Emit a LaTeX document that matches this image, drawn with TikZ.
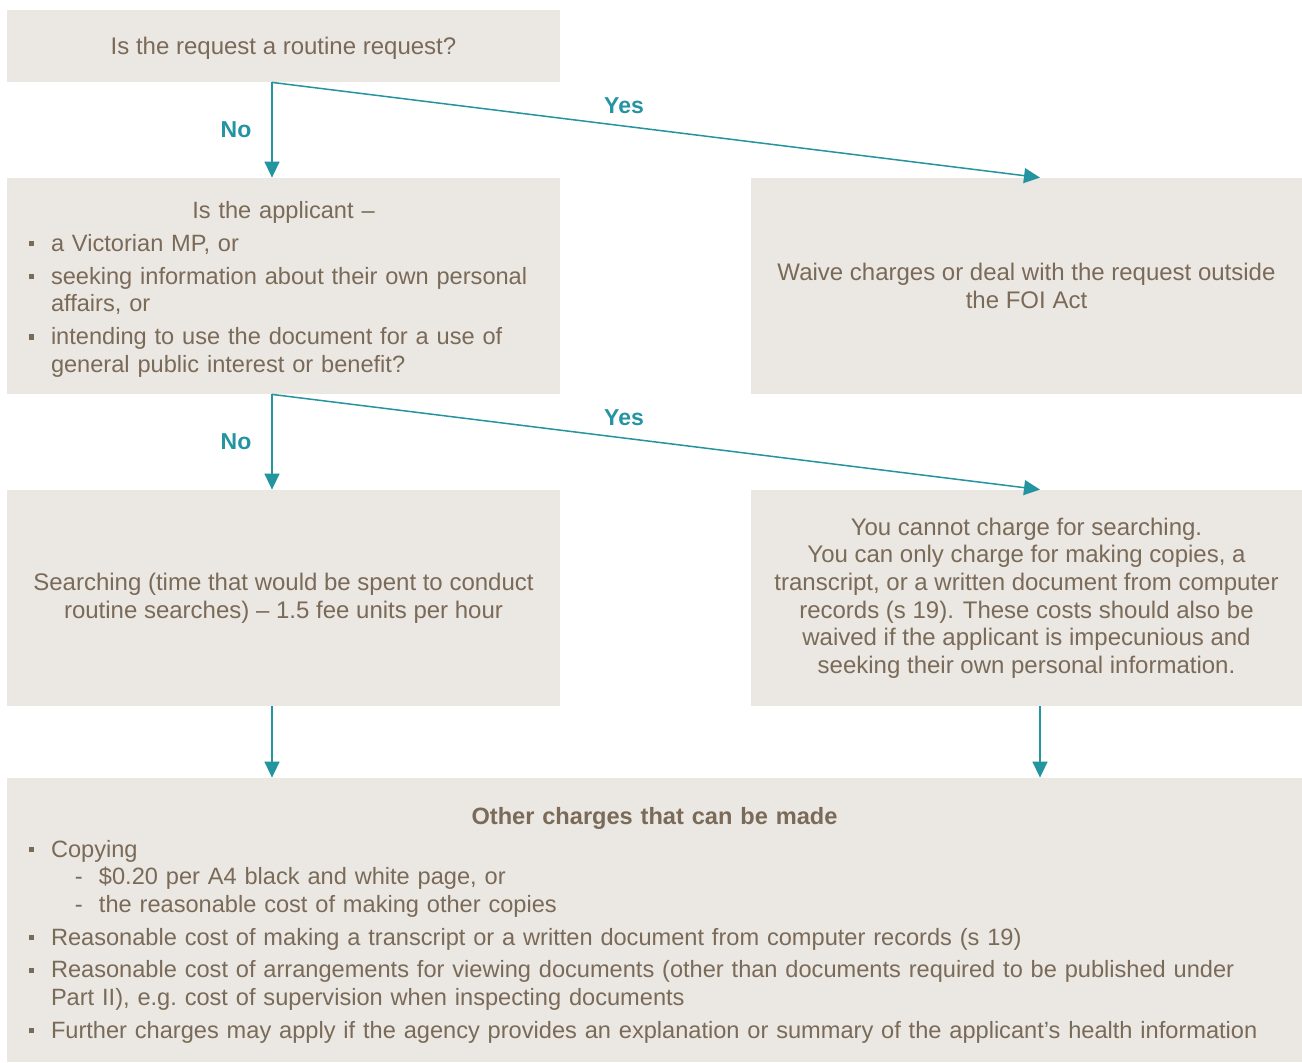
\documentclass[tikz,border=0pt]{standalone}
\usepackage{fontspec}
\setmainfont{Liberation Sans}
\usetikzlibrary{arrows.meta, positioning}
\definecolor{foibox}{HTML}{EBE7E3}
\definecolor{foitext}{HTML}{7A6A58}
\definecolor{foiteal}{HTML}{2394A0}
\newcommand{\sqbul}{\raisebox{2.5pt}{\rule{2.6pt}{2.6pt}}}
\newcommand{\bitem}[1]{\par\leftskip=11pt\noindent\hspace*{-11pt}\hbox to 11pt{\sqbul\hfil}#1}
\newcommand{\ditem}[1]{\\\hspace*{12pt}\hbox to 12pt{-\hfil}#1}
\tikzset{
    box/.style={fill=foibox, draw=none, text=foitext, inner sep=0pt,
        font=\fontsize{12}{13.8}\selectfont, align=center},
    listbox/.style={box, align=left, font=\fontsize{11.8}{13.8}\selectfont},
    flow/.style={foiteal, line width=0.75pt, -{Triangle[width=7.5pt, length=8pt]}},
    lbl/.style={text=foiteal, font=\fontsize{11.5}{14}\selectfont\bfseries, inner sep=0pt}
}
\begin{document}
\begin{tikzpicture}[x=0.5pt, y=-0.5pt]
    \useasboundingbox (0,0) rectangle (1302,1062);
    % Boxes
    \node[box, minimum width=276.5pt, minimum height=36pt, text depth=0pt] (routine) at (283.5,46) {Is the request a routine request?};
    \node[listbox, minimum width=276.5pt, minimum height=108pt, text width=254.5pt] (applicant) at (283.5,286) {%
        \setlength{\parindent}{0pt}\setlength{\parskip}{2.6pt}\hyphenpenalty=10000%
        \par\vspace*{-4.6pt}%
        {\centering Is the applicant --\par}
        \bitem{a Victorian MP, or}
        \bitem{seeking information about their own personal affairs, or}
        \bitem{intending to use the document for a use of general public interest or benefit?}\par};
    \node[box, minimum width=275.5pt, minimum height=108pt] (waive) at (1026.5,286) {Waive charges or deal with the request outside\\the FOI Act};
    \node[box, minimum width=276.5pt, minimum height=108pt] (search) at (283.5,598) {Searching (time that would be spent to conduct\\routine searches) -- 1.5 fee units per hour};
    \node[box, minimum width=275.5pt, minimum height=108pt] (nosearch) at (1026.5,598) {You cannot charge for searching.\\You can only charge for making copies, a\\transcript, or a written document from computer\\records (s 19). These costs should also be\\waived if the applicant is impecunious and\\seeking their own personal information.};
    \node[listbox, minimum width=647.5pt, minimum height=142pt, text width=625.5pt] (other) at (654.5,920) {%
        \setlength{\parindent}{0pt}\setlength{\parskip}{2.6pt}\hyphenpenalty=10000%
        \par\vspace*{-2.6pt}%
        {\centering\bfseries Other charges that can be made\par}
        \bitem{Copying\ditem{\$0.20 per A4 black and white page, or}\ditem{the reasonable cost of making other copies}}
        \bitem{Reasonable cost of making a transcript or a written document from computer records (s 19)}
        \bitem{Reasonable cost of arrangements for viewing documents (other than documents required to be published under\\Part II), e.g.\ cost of supervision when inspecting documents}
        \bitem{Further charges may apply if the agency provides an explanation or summary of the applicant’s health information}\par};
    % Connectors
    \coordinate (fork1) at ([xshift=-5.75pt]routine.south);
    \coordinate (fork2) at ([xshift=-5.75pt]applicant.south);
    \draw[flow] (fork1) -- (fork1 |- applicant.north);
    \draw[flow] (fork1) -- ([xshift=6.75pt]waive.north);
    \draw[flow] (fork2) -- (fork2 |- search.north);
    \draw[flow] (fork2) -- ([xshift=6.75pt]nosearch.north);
    \draw[flow] ([xshift=-5.75pt]search.south) -- ([xshift=-5.75pt]search.south |- other.north);
    \draw[flow] ([xshift=6.75pt]nosearch.south) -- ([xshift=6.75pt]nosearch.south |- other.north);
    % Labels
    \node[lbl] (no1) at (236,130) {No};
    \node[lbl] (yes1) at (624,106) {Yes};
    \node[lbl] (no2) at (236,442) {No};
    \node[lbl] (yes2) at (624,418) {Yes};
\end{tikzpicture}
\end{document}
